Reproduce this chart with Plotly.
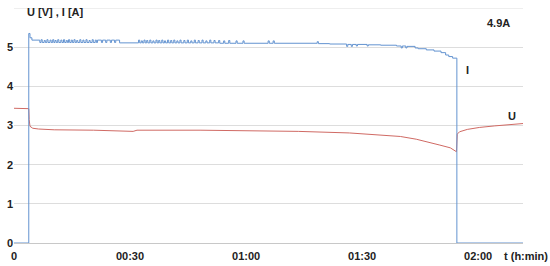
import plotly.graph_objects as go

# time in minutes
t_I = [0, 3.82, 4.13, 4.63, 6.67,
       7.0, 7.3, 7.8, 8.1, 8.5, 8.8, 9.3, 9.6, 10.0, 10.3, 10.6, 10.9, 11.3, 11.6,
       12.1, 12.4, 12.8, 13.1, 13.5, 13.8, 14.1, 14.4, 14.8, 15.1, 15.5, 15.8,
       16.2, 16.5, 17.0, 17.3, 17.8, 18.1, 18.6, 18.9, 19.4, 19.7, 20.2, 20.5,
       21.0, 21.3, 21.6,
       22.6, 22.9, 23.7, 24.0, 24.9, 25.2, 26.0, 26.3, 27.3,
       32.2, 32.5, 32.9, 33.2, 33.6, 33.9, 34.3, 34.6, 35.1, 35.4, 35.9, 36.2,
       36.7, 37.0, 37.4, 37.7, 38.2, 38.5, 38.9, 39.2, 39.7, 40.0, 40.5, 40.8,
       41.3, 41.6, 42.1, 42.4, 42.9, 43.2, 43.9, 44.2, 44.8, 45.1, 45.7, 46.0,
       46.6, 46.9, 47.6, 47.9, 48.6, 48.9, 49.6, 49.9, 50.6, 50.9, 51.7, 52.0,
       52.9, 53.2, 54.2, 54.5, 55.5, 55.8, 57.4, 57.7, 59.2, 59.5,
       65.7, 66.0, 67.0, 67.3, 78.4, 78.7, 81.6,
       86.0, 86.3, 87.2, 87.5, 88.5, 88.8, 91.3, 91.6, 94.8, 98.9,
       100.1, 100.4, 101.3, 101.6, 103.7, 104.5, 106.6, 108.6, 110.4, 111.6,
       112.4, 113.4, 114.5, 131.6]
I = [0, 5.35, 5.24, 5.18, 5.12,
     5.19, 5.12, 5.17, 5.12, 5.19, 5.12, 5.18, 5.12, 5.19, 5.12, 5.17, 5.12, 5.19, 5.12,
     5.18, 5.12, 5.19, 5.12, 5.17, 5.12, 5.19, 5.12, 5.18, 5.12, 5.19, 5.12,
     5.17, 5.12, 5.19, 5.12, 5.18, 5.12, 5.19, 5.12, 5.17, 5.12, 5.19, 5.12,
     5.18, 5.12, 5.18,
     5.12, 5.18, 5.12, 5.18, 5.12, 5.18, 5.12, 5.18, 5.11,
     5.18, 5.11, 5.16, 5.11, 5.18, 5.11, 5.17, 5.11, 5.18, 5.11, 5.16, 5.11,
     5.18, 5.11, 5.17, 5.11, 5.18, 5.11, 5.16, 5.11, 5.18, 5.11, 5.17, 5.11,
     5.18, 5.11, 5.16, 5.11, 5.18, 5.11, 5.17, 5.11, 5.18, 5.11, 5.16, 5.11,
     5.18, 5.11, 5.17, 5.11, 5.18, 5.11, 5.16, 5.11, 5.18, 5.11, 5.17, 5.11,
     5.17, 5.10, 5.16, 5.10, 5.17, 5.10, 5.16, 5.10, 5.16, 5.10,
     5.16, 5.10, 5.16, 5.10, 5.14, 5.09, 5.08,
     5.02, 5.07, 5.02, 5.07, 5.03, 5.07, 5.03, 5.06, 5.05, 5.03,
     4.98, 5.03, 4.98, 5.02, 4.98, 4.96, 4.93, 4.90, 4.86, 4.80,
     4.76, 4.72, 0, 0]

t_U = [0, 3.82, 3.92, 4.13, 4.84, 6.36, 10.4, 20.6, 30.8, 31.8, 48.1, 61.3,
       73.5, 86.7, 93.8, 99.9, 104.0, 107.6, 110.1, 112.8, 114.4, 114.6, 115.2,
       117.2, 120.3, 124.3, 128.4, 131.6]
U = [3.44, 3.43, 3.15, 2.98, 2.93, 2.91, 2.89, 2.88, 2.85, 2.88, 2.88, 2.87,
     2.85, 2.81, 2.77, 2.72, 2.65, 2.57, 2.50, 2.43, 2.33, 2.78, 2.84, 2.90,
     2.95, 2.99, 3.02, 3.05]

x_ticks = [0, 30, 60, 90, 120]
x_labels = ["0", "00:30", "01:00", "01:30", "02:00"]

fnt = dict(family="Liberation Sans, Arial", size=11, color="#222222", weight="bold")

fig = go.Figure()
fig.add_trace(go.Scatter(x=t_U, y=U, mode="lines", line=dict(color="#d06a64", width=1)))
fig.add_trace(go.Scatter(x=t_I, y=I, mode="lines", line_shape="hv",
                         line=dict(color="#6393d0", width=1)))

fig.update_layout(
    width=550, height=266,
    margin=dict(l=14, r=27, t=8, b=23),
    paper_bgcolor="white", plot_bgcolor="white",
    showlegend=False,
    font=fnt,
)
fig.update_xaxes(range=[0, 131.6], tickvals=x_ticks, ticktext=x_labels,
                 showgrid=False, zeroline=False, showline=True, automargin=False,
                 linecolor="#c8c8c8", linewidth=1, tickfont=fnt, ticks="",
                 ticklabelstandoff=3)
fig.update_yaxes(range=[0, 6], showgrid=True, gridcolor="#dddddd", automargin=False,
                 zeroline=False, showline=False, tickfont=fnt, ticks="",
                 tickvals=[0, 1, 2, 3, 4, 5])
# top gridline at 6 (no label)
fig.add_shape(type="line", xref="paper", yref="y", x0=0, x1=1, y0=6, y1=6,
              line=dict(color="#dddddd", width=1), layer="below")

for txt, x, y, xa in [("U [V] , I [A]", 0.022, 0.983, "left"),
                      ("4.9A", 0.951, 0.936, "center"),
                      ("I", 0.890, 0.736, "center"),
                      ("U", 0.978, 0.540, "center"),
                      ("t (h:min)", 1.053, -0.055, "right")]:
    fig.add_annotation(text=txt, x=x, y=y, xref="paper", yref="paper",
                       xanchor=xa, yanchor="middle", showarrow=False, font=fnt)

# page body has a default margin; remove it so the chart sits at (0, 0)
fig.write_html("out.html", config={"displayModeBar": False},
               post_script="document.body.style.margin='0';")
